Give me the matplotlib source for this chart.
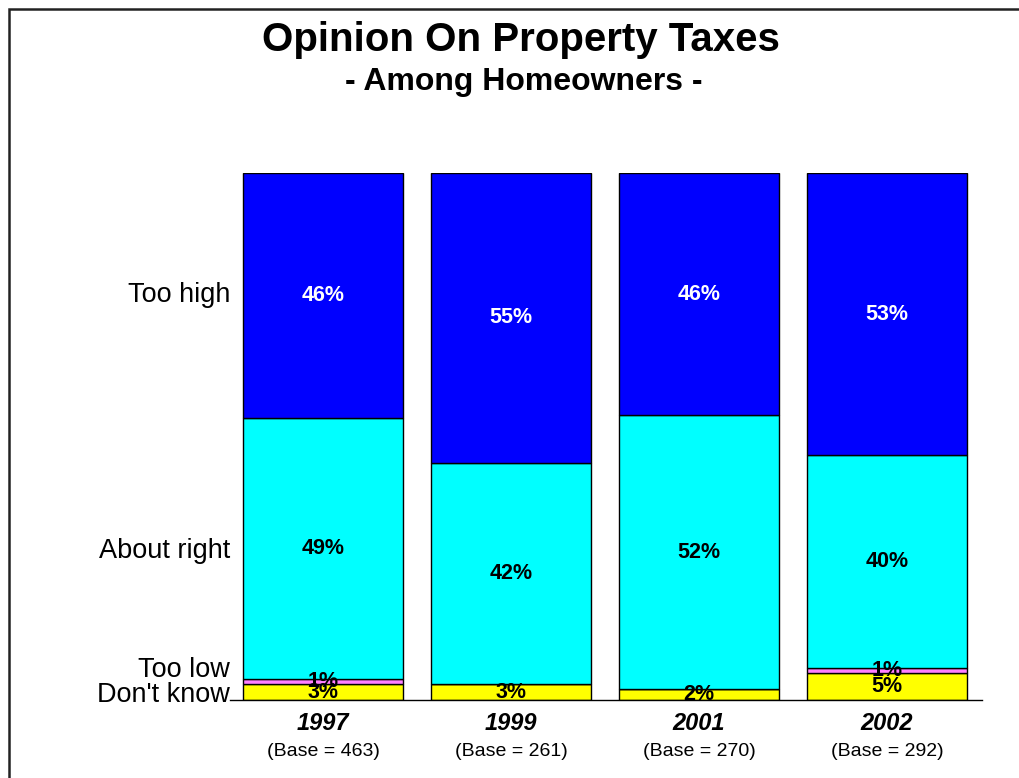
import numpy as np
import matplotlib.pyplot as plt
from matplotlib.patches import Rectangle

plt.rcParams['font.family'] = ['Liberation Sans', 'DejaVu Sans']

years = ['1997', '1999', '2001', '2002']
bases = [463, 261, 270, 292]
categories = ["Don't know", 'Too low', 'About right', 'Too high']
dont_know = [3, 3, 2, 5]
too_low = [1, 0, 0, 1]
about_right = [49, 42, 52, 40]
too_high = [46, 55, 46, 53]

series = [dont_know, too_low, about_right, too_high]
colors = ['#ffff00', '#ff80ff', '#00ffff', '#0000ff']
text_colors = ['black', 'black', 'black', 'white']

fig = plt.figure(figsize=(10.2, 7.78), dpi=100)
ax = fig.add_axes([230 / 1020, 1 - 700 / 778, 752 / 1020, 527 / 778])

values = np.array(series, dtype=float)
totals = values.sum(axis=0)
shares = values / totals * 100  # each column stacked to 100%

x = np.arange(len(years))
bottom = np.zeros(len(years))
centers = []
for vals, share, col, tcol in zip(values, shares, colors, text_colors):
    ax.bar(x, share, 0.85, bottom=bottom, color=col, edgecolor='black', linewidth=1)
    mid = bottom + share / 2
    centers.append(mid)
    for xi, v, m in zip(x, vals, mid):
        if v > 0:
            ax.text(xi, m, f'{v:.0f}%', ha='center', va='center', color=tcol,
                    fontsize=15.5, fontweight='bold')
    bottom = bottom + share

# category names to the left, aligned with the first column
label_y = [1.0, 5.7, centers[2][0] - 0.5, centers[3][0]]
for name, y in zip(categories, label_y):
    ax.text(-0.495, y, name, ha='right', va='center', fontsize=19.5)

for xi, yr, b in zip(x, years, bases):
    ax.text(xi, -4.4, yr, ha='center', va='center', fontsize=17,
            fontweight='bold', style='italic')
    ax.text(xi, -9.8, f'(Base = {b})', ha='center', va='center', fontsize=14)

ax.set_xlim(-0.495, 3.505)
ax.set_ylim(0, 100)
for side in ['top', 'right', 'left']:
    ax.spines[side].set_visible(False)
ax.spines['bottom'].set_linewidth(1)
ax.set_xticks([])
ax.set_yticks([])

fig.text(0.511, 1 - 40 / 778, 'Opinion On Property Taxes', ha='center', va='center',
         fontsize=29, fontweight='bold')
fig.text(0.513, 1 - 82 / 778, '- Among Homeowners -', ha='center', va='center',
         fontsize=23, fontweight='bold')

fig.patches.append(Rectangle((9 / 1020, -0.2), 1.2, 1.2 - 9 / 778, transform=fig.transFigure,
                             fill=False, edgecolor='#222222', linewidth=1.8))

fig.savefig('out.png', dpi=100)
